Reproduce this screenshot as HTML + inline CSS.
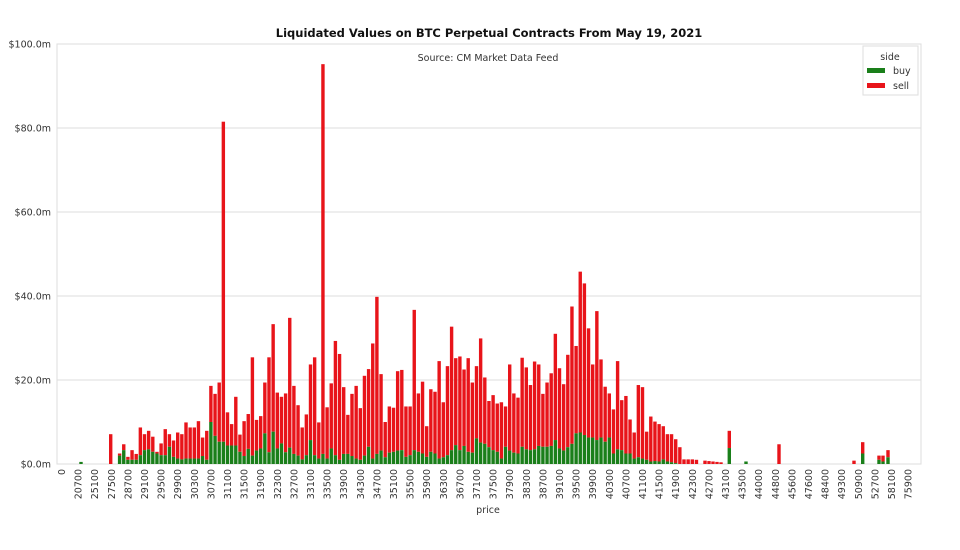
<!DOCTYPE html>
<html><head><meta charset="utf-8"><style>
body{margin:0;background:#fff;}
svg{display:block;font-family:"DejaVu Sans","Liberation Sans",sans-serif;}
</style></head><body>
<svg id="s" width="960" height="550" viewBox="0 0 960 550">
<rect width="960" height="550" fill="#fff"/>
<text x="489" y="37" text-anchor="middle" font-size="11.5" font-weight="bold" fill="#111">Liquidated Values on BTC Perpetual Contracts From May 19, 2021</text>
<g id="grid"></g>
<rect x="57" y="44" width="864" height="420" fill="none" stroke="#ddd" stroke-width="1"/>
<text x="488" y="61" text-anchor="middle" font-size="9.5" fill="#333">Source: CM Market Data Feed</text>
<g id="bars"></g>
<g id="xl" font-size="9.5" fill="#333"></g>
<text x="488" y="513" text-anchor="middle" font-size="9.5" fill="#333">price</text>
<g>
<rect x="863" y="46" width="55" height="49" fill="#fff" stroke="#ddd"/>
<text x="890" y="60" text-anchor="middle" font-size="9.5" fill="#333">side</text>
<rect x="867" y="68" width="18" height="5" fill="#1a7f1a"/>
<text x="893" y="74" font-size="9.5" fill="#333">buy</text>
<rect x="867" y="83" width="18" height="5" fill="#e8141a"/>
<text x="893" y="89" font-size="9.5" fill="#333">sell</text>
</g>
</svg>
<script>
var NS="http://www.w3.org/2000/svg";
function el(p,t,a,txt){var e=document.createElementNS(NS,t);for(var k in a)e.setAttribute(k,a[k]);if(txt!=null)e.textContent=txt;document.getElementById(p).appendChild(e);}
var Y=function(v){return 464-v*4.2;};
["$0.0m","$20.0m","$40.0m","$60.0m","$80.0m","$100.0m"].forEach(function(l,i){
 var y=Y(i*20);
 if(i>0&&i<5)el("grid","line",{x1:57,x2:921,y1:y,y2:y,stroke:"#ddd","stroke-width":1});
 el("grid","text",{x:51,y:y+3.5,"text-anchor":"end","font-size":"9.5",fill:"#333"},l);
});
var main=[[2.5,2],[4.7,3.3],[1.7,1],[3.3,1],[2.4,1],[8.7,2.1],[7.1,3.3],[7.9,3.5],[6.5,2.9],[2.9,2.5],[4.9,2.1],[8.3,2.1],[7.1,4.1],[5.6,1.7],[7.5,1.3],[7.1,1.1],[9.9,1.3],[8.7,1.3],[8.7,1.3],[10.2,1.3],[6.3,1.9],[7.9,1],[18.6,10],[16.7,6.7],[19.4,5.3],[81.5,5.3],[12.3,4.4],[9.5,4.4],[16,4.4],[7,2.9],[10.2,1.9],[11.9,3.6],[25.4,2],[10.5,3.2],[11.4,3.7],[19.4,7.3],[25.4,2.8],[33.3,7.7],[17,3.7],[16,4.9],[16.8,2.8],[34.8,3.9],[18.6,2.4],[14,2],[8.7,1.1],[11.8,2.1],[23.7,5.7],[25.4,2.1],[9.9,1.3],[95.2,2.4],[13.5,1.3],[19.2,3.7],[29.3,2.1],[26.2,1],[18.3,2.4],[11.7,2.4],[16.7,1.9],[18.6,1.3],[13.3,1],[21,2],[22.6,4.1],[28.7,1.3],[39.8,2.4],
[21.4,3.2],[10,1.6],[13.7,2.7],[13.4,2.9],[22.1,3.2],[22.4,3.3],[13.7,1.7],[13.7,2.1],[36.7,3.3],[16.8,2.9],[19.6,2.5],[9,1.7],[17.8,2.9],[17.2,2.5],[24.5,1.3],[14.7,1.6],[23.3,2.1],[32.7,3.3],[25.2,4.5],[25.6,3.3],[22.5,4.3],[25.2,2.9],[19.4,2.7],[23.3,6.1],[29.9,5.1],[20.6,4.8],[15,4],[16.4,3.3],[14.4,2.9],[14.7,1.3],[13.7,4.1],[23.7,3.2],[16.8,2.7],[15.8,2.5],[25.3,4.1],[23,3.5],[18.8,3.3],[24.4,3.5],[23.7,4.3],[16.7,4.1],[19.4,4.1],[21.6,4.3],[31,5.7],[22.8,3.7],[19,3.2],[26,4],[37.5,4.8],[28.1,7.3],[45.8,7.5],[43,6.9],[32.3,6.3],[23.7,6.3],[36.4,5.7],[24.9,6.3],[18.4,5.3],[16.8,6.3],[13,2.5],[24.5,3.5],[15.2,3.3],[16.2,2.5],[10.6,2.5],[7.5,1.3],[18.8,1.6],[18.3,1.3],[7.7,1],[11.3,0.6],[10.1,0.7],[9.5,0.6],[9,1.1],[7.1,0.6],[7.1,0.4],[5.9,0.2],[4,0],[1.1,0],[1.1,0],[1.1,0],[1,0]];
var P=4.15,X0=61.5,W=3.4;
function bar(x,t,b){
 if(t>b)el("bars","rect",{x:x-W/2,y:Y(t),width:W,height:(t-b)*4.2,fill:"#e8141a"});
 if(b>0)el("bars","rect",{x:x-W/2,y:Y(b),width:W,height:b*4.2,fill:"#1a7f1a"});
}
bar(81,0.5,0.5);
bar(110.7,7.1,0);
main.forEach(function(d,i){bar(X0+(14+i)*P,d[0],d[1]);});
[[705,0.8,0],[709,0.7,0],[713,0.6,0],[717,0.5,0],[721,0.4,0],[729.3,7.9,3.8],[746,0.6,0.6],[779,4.7,0],[854,0.8,0],[862.7,5.2,2.5],[879,2,1],[883,2,0.6],[888,3.3,1.6]].forEach(function(d){bar(d[0],d[1],d[2]);});
var labs="0 20700 25100 27500 28700 29100 29500 29900 30300 30700 31100 31500 31900 32300 32700 33100 33500 33900 34300 34700 35100 35500 35900 36300 36700 37100 37500 37900 38300 38700 39100 39500 39900 40300 40700 41100 41500 41900 42300 42700 43100 43500 44000 44800 45600 47600 48400 49300 50900 52700 58100 75900".split(" ");
labs.forEach(function(l,i){var x=X0+i*4*P+3.5;el("xl","text",{x:0,y:0,"text-anchor":"end",transform:"translate("+x+",469) rotate(-90)"},l);});
</script>
</body></html>
